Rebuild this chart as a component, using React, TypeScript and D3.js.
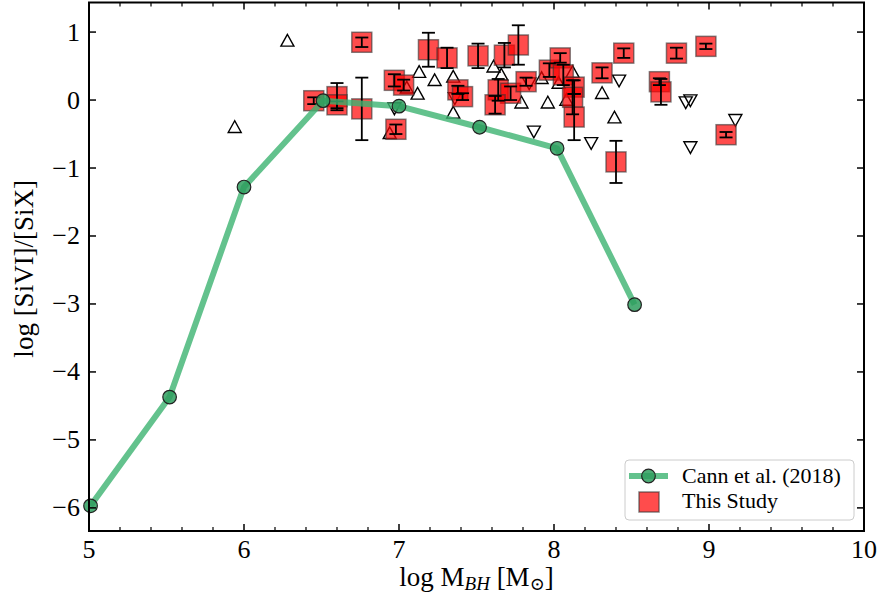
import React from "react";
import * as d3 from "d3";

const cannX = [5.01, 5.52, 6.0, 6.51, 7.0, 7.52, 8.02, 8.52];
const cannY = [-5.97, -4.37, -1.28, -0.01, -0.09, -0.4, -0.71, -3.01];

const upX = [5.94, 6.28, 6.94, 7.13, 7.05, 7.12, 7.23, 7.35, 7.35, 7.61, 7.66, 7.79, 7.92, 7.96, 8.03, 8.12, 8.31, 8.39, 8.08];
const upY = [-0.4, 0.87, -0.49, 0.41, 0.18, 0.09, 0.29, 0.34, -0.19, 0.49, 0.37, -0.04, 0.32, -0.04, 0.25, 0.41, 0.1, -0.26, 0.0];

const downX = [6.97, 7.36, 7.84, 7.87, 8.42, 8.24, 8.85, 8.88, 9.17, 8.88];
const downY = [-0.12, 0.03, 0.25, -0.46, 0.29, -0.63, -0.03, 0.0, -0.29, -0.69];

const sqX = [6.45, 6.6, 6.6, 6.76, 6.76, 6.97, 7.03, 6.98, 7.19, 7.31, 7.51, 7.38, 7.41, 7.68, 7.77, 7.64, 7.72, 7.62, 7.82, 7.97, 8.04, 8.06, 8.13, 8.12, 8.13, 8.31, 8.45, 8.79, 8.98, 8.68, 8.69, 9.11, 8.4];
const sqY = [-0.01, 0.05, -0.07, -0.13, 0.85, 0.29, 0.22, -0.43, 0.74, 0.62, 0.65, 0.15, 0.05, 0.66, 0.81, 0.15, 0.1, -0.07, 0.27, 0.44, 0.62, 0.37, 0.19, 0.04, -0.25, 0.4, 0.69, 0.69, 0.79, 0.27, 0.12, -0.51, -0.91];
const sqErr = [0.05, 0.2, 0.05, 0.46, 0.07, 0.09, 0.08, 0.07, 0.25, 0.15, 0.18, 0.06, 0.05, 0.18, 0.29, 0.16, 0.1, 0.13, 0.06, 0.1, 0.07, 0.15, 0.1, 0.25, 0.34, 0.08, 0.07, 0.08, 0.04, 0.05, 0.19, 0.04, 0.31];

const xTicks = [5, 6, 7, 8, 9, 10];
const yTicks = [1, 0, -1, -2, -3, -4, -5, -6];

const L = 89, R = 864, T = 2.5, B = 531;
const FONT = "'Liberation Serif', 'DejaVu Serif', serif";

export default function App() {
  const x = d3.scaleLinear().domain([5, 10]).range([L, R]);
  const y = d3.scaleLinear().domain([-6.34, 1.435]).range([B, T]);
  const minorX = d3.range(5, 10.001, 0.2).filter((v) => Math.abs(v - Math.round(v)) > 0.01);
  const line = d3.line<number>().x((_, i) => x(cannX[i])).y((d) => y(d));
  const tri = (cx: number, cy: number, r: number, up: boolean) => {
    const s = up ? 1 : -1;
    return `M${cx},${cy - s * r}L${cx - r},${cy + s * r * 0.8}L${cx + r},${cy + s * r * 0.8}Z`;
  };
  const half = 10;
  const cap = 6.5;
  const lineCol = "#3cb371";
  const dotCol = "#2e9e5e";
  return (
    <svg width={881} height={601} style={{ position: "absolute", left: 0, top: 0, background: "#fff" }}>
      {upX.map((v, i) => (
        <path key={"u" + i} d={tri(x(v), y(upY[i]), 6.5, true)} fill="none" stroke="#000" strokeWidth={1.4} />
      ))}
      {downX.map((v, i) => (
        <path key={"d" + i} d={tri(x(v), y(downY[i]), 6.5, false)} fill="none" stroke="#000" strokeWidth={1.4} />
      ))}
      {sqX.map((v, i) => (
        <rect key={"s" + i} x={x(v) - half} y={y(sqY[i]) - half} width={2 * half} height={2 * half}
          fill="#ff0000" fillOpacity={0.7} stroke="#333" strokeOpacity={0.6} strokeWidth={1.5} />
      ))}
      {sqX.map((v, i) => {
        const cx = x(v), y1 = y(sqY[i] + sqErr[i]), y2 = y(sqY[i] - sqErr[i]);
        return (
          <g key={"e" + i} stroke="#000" strokeWidth={1.8}>
            <line x1={cx} x2={cx} y1={y1} y2={y2} />
            <line x1={cx - cap} x2={cx + cap} y1={y1} y2={y1} />
            <line x1={cx - cap} x2={cx + cap} y1={y2} y2={y2} />
          </g>
        );
      })}
      <path d={line(cannY) || ""} fill="none" stroke={lineCol} strokeOpacity={0.8} strokeWidth={6} strokeLinejoin="round" />
      {cannX.map((v, i) => (
        <circle key={"c" + i} cx={x(v)} cy={y(cannY[i])} r={6.8} fill={dotCol} fillOpacity={0.85} stroke="#222" strokeWidth={1.2} />
      ))}
      <rect x={L} y={T} width={R - L} height={B - T} fill="none" stroke="#000" strokeWidth={2} />
      {xTicks.map((t) => (
        <g key={"xt" + t}>
          <line x1={x(t)} x2={x(t)} y1={B} y2={B - 7} stroke="#000" strokeWidth={1.5} />
          <line x1={x(t)} x2={x(t)} y1={T} y2={T + 7} stroke="#000" strokeWidth={1.5} />
          <text x={x(t)} y={558} textAnchor="middle" fontFamily={FONT} fontSize={26}>{t}</text>
        </g>
      ))}
      {minorX.map((t, i) => (
        <g key={"xm" + i}>
          <line x1={x(t)} x2={x(t)} y1={B} y2={B - 4} stroke="#000" strokeWidth={1.2} />
          <line x1={x(t)} x2={x(t)} y1={T} y2={T + 4} stroke="#000" strokeWidth={1.2} />
        </g>
      ))}
      {yTicks.map((t) => (
        <g key={"yt" + t}>
          <line x1={L} x2={L + 7} y1={y(t)} y2={y(t)} stroke="#000" strokeWidth={1.5} />
          <line x1={R} x2={R - 7} y1={y(t)} y2={y(t)} stroke="#000" strokeWidth={1.5} />
          <text x={80} y={y(t) + 8.5} textAnchor="end" fontFamily={FONT} fontSize={26}>{t < 0 ? "\u2212" + Math.abs(t) : String(t)}</text>
        </g>
      ))}
      <text x={(L + R) / 2} y={586} textAnchor="middle" fontFamily={FONT} fontSize={27}>
        log M<tspan fontStyle="italic" fontSize={19} dy={4}>BH</tspan><tspan dy={-4}> [M</tspan><tspan fontSize={18} dy={4}>{"\u2299"}</tspan><tspan dy={-4}>]</tspan>
      </text>
      <text transform={`translate(33,${(T + B) / 2 + 2}) rotate(-90)`} textAnchor="middle" fontFamily={FONT} fontSize={27}>
        log [SiVI]/[SiX]
      </text>
      <rect x={625} y={460} width={229} height={60} rx={4} fill="#fff" fillOpacity={0.8} stroke="#ccc" strokeWidth={1} />
      <line x1={629} x2={668} y1={476} y2={476} stroke={lineCol} strokeOpacity={0.8} strokeWidth={6} />
      <circle cx={648.5} cy={476} r={6.8} fill={dotCol} fillOpacity={0.85} stroke="#222" strokeWidth={1.2} />
      <text x={682} y={483} fontFamily={FONT} fontSize={22}>Cann et al. (2018)</text>
      <rect x={639} y={492} width={20} height={20} fill="#ff0000" fillOpacity={0.7} stroke="#333" strokeOpacity={0.6} strokeWidth={1.5} />
      <text x={682} y={508} fontFamily={FONT} fontSize={22}>This Study</text>
    </svg>
  );
}
